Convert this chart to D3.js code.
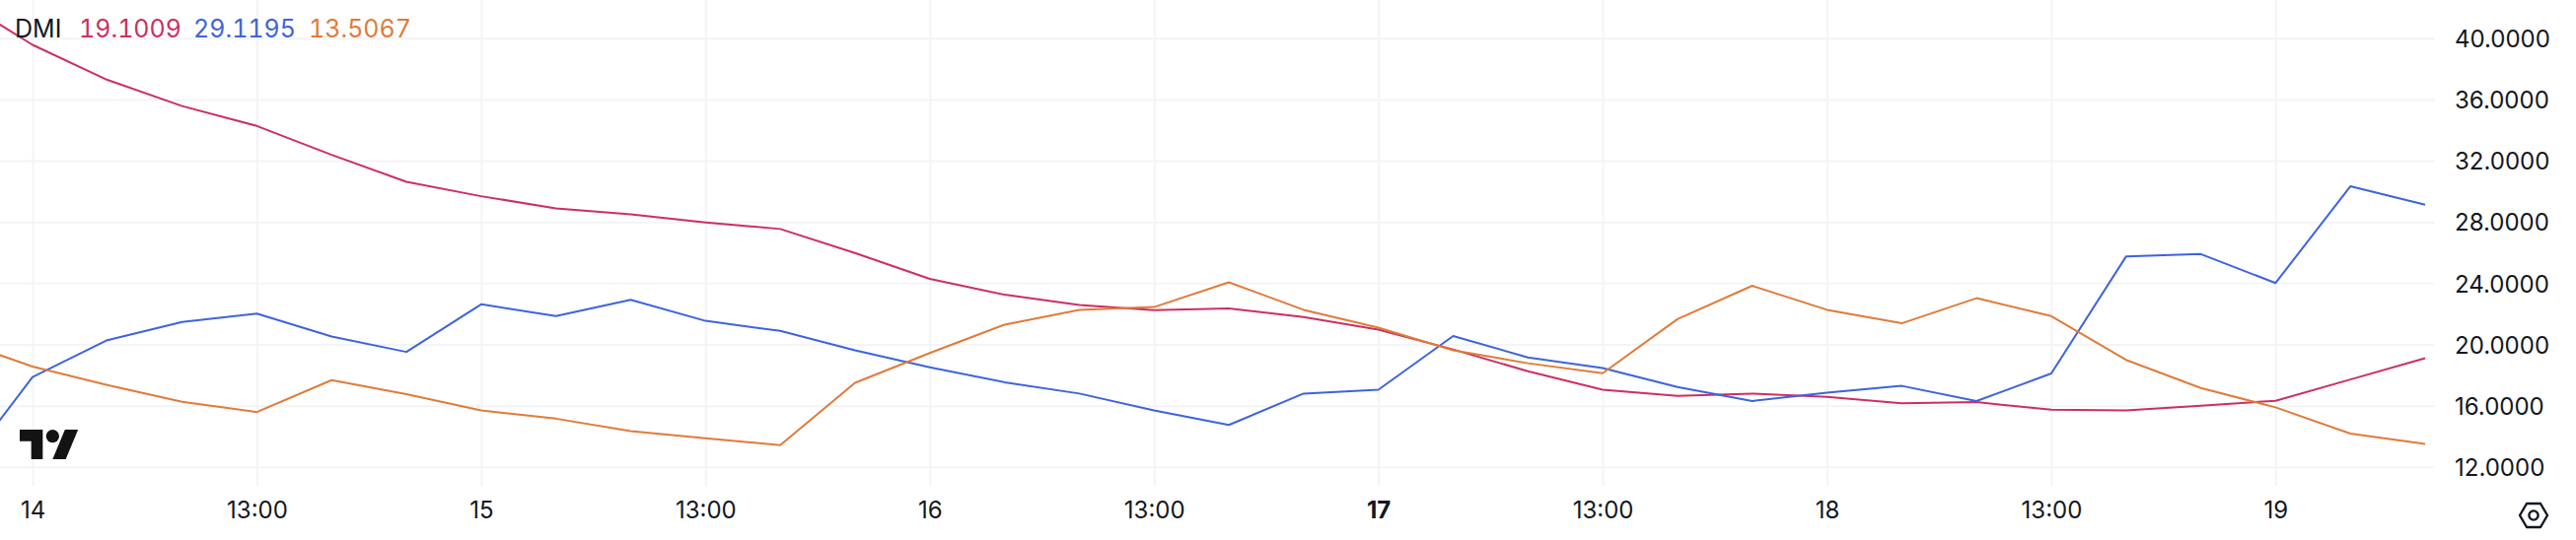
<!DOCTYPE html>
<html>
<head>
<meta charset="utf-8">
<script src="https://cdn.jsdelivr.net/npm/d3@7"></script>
<style>
  html, body { margin: 0; padding: 0; background: #fff; }
  svg { display: block; }
  text { font-family: Inter, "Noto Sans", sans-serif; fill: #131722; }
</style>
</head>
<body>
<div id="chart"></div>
<script>
// 4h bars, labelled "day hour"
const bars = [
  "13 21:00",
  "14 01:00", "14 05:00", "14 09:00", "14 13:00", "14 17:00", "14 21:00",
  "15 01:00", "15 05:00", "15 09:00", "15 13:00", "15 17:00", "15 21:00",
  "16 01:00", "16 05:00", "16 09:00", "16 13:00", "16 17:00", "16 21:00",
  "17 01:00", "17 05:00", "17 09:00", "17 13:00", "17 17:00", "17 21:00",
  "18 01:00", "18 05:00", "18 09:00", "18 13:00", "18 17:00", "18 21:00",
  "19 01:00", "19 05:00", "19 09:00"
];

const redValues = [42.6, 39.57, 37.28, 35.57, 34.27, 32.38, 30.62, 29.68, 28.89, 28.49, 27.97, 27.54,
  25.97, 24.28, 23.25, 22.57, 22.23, 22.35, 21.78, 20.97, 19.67, 18.25, 17.04, 16.63, 16.79, 16.57,
  16.16, 16.23, 15.73, 15.69, 16.0, 16.32, 17.71, 19.1009];
const blueValues = [11.44, 17.87, 20.28, 21.47, 22.01, 20.52, 19.51, 22.62, 21.85, 22.91, 21.54, 20.88,
  19.62, 18.5, 17.53, 16.79, 15.69, 14.74, 16.79, 17.04, 20.55, 19.15, 18.46, 17.22, 16.3, 16.84,
  17.29, 16.3, 18.1, 25.74, 25.9, 24.01, 30.33, 29.1195];
const orangeValues = [20.28, 18.55, 17.35, 16.25, 15.58, 17.67, 16.75, 15.69, 15.15, 14.34, 13.87, 13.42,
  17.49, 19.44, 21.29, 22.26, 22.44, 24.06, 22.26, 21.09, 19.62, 18.77, 18.12, 21.65, 23.83, 22.26,
  21.38, 23.02, 21.85, 18.99, 17.15, 15.89, 14.18, 13.5067];

const yTicks = [12, 16, 20, 24, 28, 32, 36, 40];
const xTicks = ["14 01:00", "14 13:00", "15 01:00", "15 13:00", "16 01:00", "16 13:00",
  "17 01:00", "17 13:00", "18 01:00", "18 13:00", "19 01:00"];
const xTickLabels = ["14", "13:00", "15", "13:00", "16", "13:00", "17", "13:00", "18", "13:00", "19"];
const boldLabel = "17";
const legendName = "DMI";

let width = 2612,
    height = 548,
    plotRight = 2469,
    plotBottom = 493;

const svg = d3.select("#chart")
  .append("svg")
  .attr("width", width)
  .attr("height", height)
  .attr("viewBox", [0, 0, width, height]);

svg.append("rect").attr("width", width).attr("height", height).attr("fill", "#fff");

let x = d3.scalePoint()
  .domain(bars)
  .range([-42.8, 2459]);

let y = d3.scaleLinear()
  .domain([12, 40])
  .range([473.8, 38.8]);

// vertical grid + time labels
let xAxis = svg.append("g")
  .attr("transform", `translate(0,${plotBottom})`)
  .call(d3.axisBottom(x)
    .tickValues(xTicks)
    .tickSize(-plotBottom)
    .tickPadding(16)
    .tickFormat((d, i) => xTickLabels[i]));
xAxis.select(".domain").remove();
xAxis.selectAll("line").attr("stroke", "#f3f4f6").attr("stroke-width", 2);
xAxis.selectAll("text")
  .attr("font-size", 24)
  .attr("font-weight", d => xTickLabels[xTicks.indexOf(d)] === boldLabel ? 700 : 400);

// horizontal grid
let yGrid = svg.append("g")
  .attr("transform", `translate(${plotRight},0)`)
  .call(d3.axisLeft(y).tickValues(yTicks).tickSize(plotRight).tickFormat(""));
yGrid.select(".domain").remove();
yGrid.selectAll("line").attr("stroke", "#f3f4f6").attr("stroke-width", 2);

// price axis
let yAxis = svg.append("g")
  .attr("transform", `translate(${plotRight},1)`)
  .call(d3.axisRight(y)
    .tickValues(yTicks)
    .tickSize(0)
    .tickPadding(20)
    .tickFormat(d3.format(".4f")));
yAxis.select(".domain").remove();
yAxis.selectAll("text").attr("font-size", 24);

let line = d3.line()
  .x((d, i) => x(bars[i]))
  .y(d => y(d));

const series = [
  { values: redValues, color: "#cc2f60" },
  { values: blueValues, color: "#3d63dd" },
  { values: orangeValues, color: "#e07b39" }
];

for (let s of series) {
  svg.append("path")
    .datum(s.values)
    .attr("fill", "none")
    .attr("stroke", s.color)
    .attr("stroke-width", 2)
    .attr("stroke-linejoin", "round")
    .attr("d", line);
}

// legend
svg.append("text")
  .attr("x", 15).attr("y", 38)
  .attr("font-size", 25)
  .text(legendName);

let legendX = [80, 196, 313];
series.forEach((s, i) => {
  svg.append("text")
    .attr("x", legendX[i]).attr("y", 38)
    .attr("font-size", 25)
    .style("font-variant-numeric", "tabular-nums")
    .style("fill", s.color)
    .text(d3.format(".4f")(s.values[s.values.length - 1]));
});

// tradingview logo
let logo = svg.append("g")
  .attr("transform", "translate(20,429.3) scale(1.667)")
  .attr("fill", "#131313");
logo.append("path").attr("d", "M14 22H7V11H0V4h14v18zM28 22h-8l7.5-18h8L28 22z");
logo.append("circle").attr("cx", 20).attr("cy", 8).attr("r", 4);

// settings hexagon bottom right
let hex = svg.append("g")
  .attr("transform", "translate(2569,523)")
  .attr("fill", "none")
  .attr("stroke", "#131722")
  .attr("stroke-width", 2.4);
hex.append("path").attr("d", "M-14 0L-7 -12H7L14 0L7 12H-7Z").attr("stroke-linejoin", "round");
hex.append("circle").attr("r", 4.6);
</script>
</body>
</html>
